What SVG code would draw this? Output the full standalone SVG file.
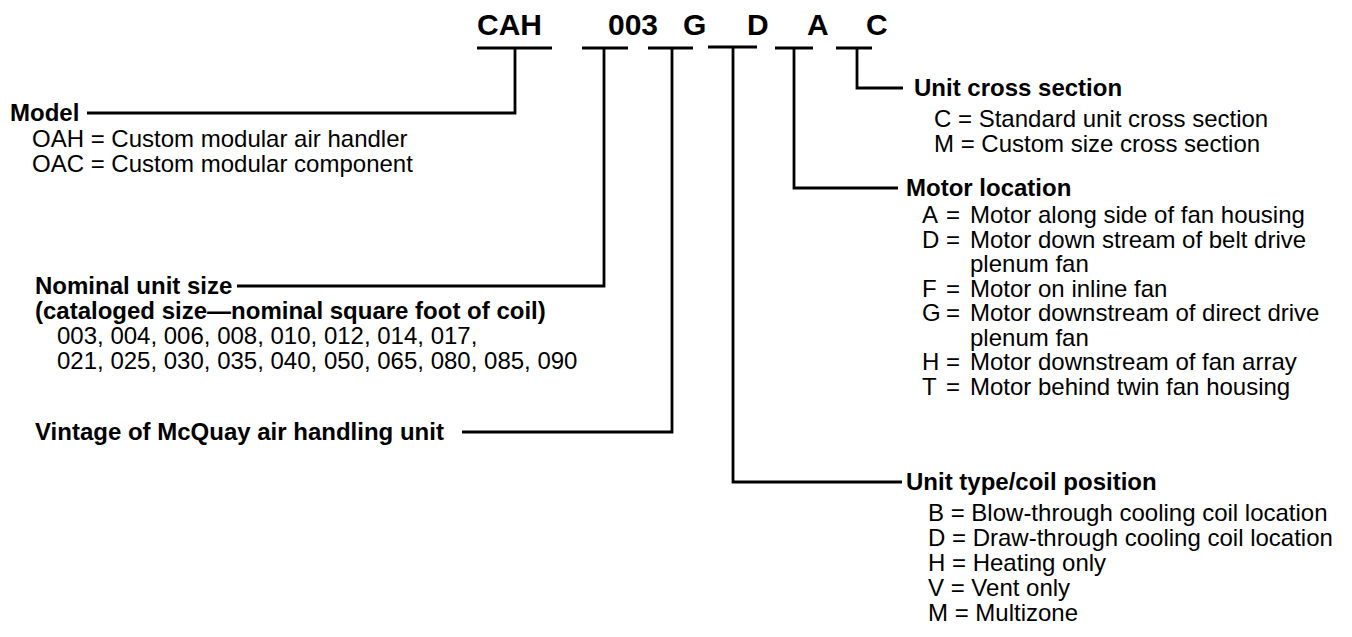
<svg xmlns="http://www.w3.org/2000/svg" width="1352" height="637" viewBox="0 0 1352 637">
<style>
.t{font-family:"Liberation Sans",Arial,sans-serif;font-size:24px;fill:#000}
.b{font-weight:bold}
.code{font-family:"Liberation Sans",Arial,sans-serif;font-size:30px;font-weight:bold;fill:#000}
.ln{fill:none;stroke:#000;stroke-width:2.8;stroke-linecap:butt;stroke-linejoin:miter}
</style>
<rect width="1352" height="637" fill="#fff"/>
<g id="code">
<text class="code" x="477" y="35">CAH</text>
<text class="code" x="608" y="35">003</text>
<text class="code" x="683" y="35">G</text>
<text class="code" x="747" y="35">D</text>
<text class="code" x="807" y="35">A</text>
<text class="code" x="866" y="35">C</text>
</g>
<g id="connectors">
<path class="ln" d="M477 48H552M515 48V113H87"/>
<path class="ln" d="M582 48H628M604 48V286H237"/>
<path class="ln" d="M648 48H693M672 48V432H462"/>
<path class="ln" d="M708 47H757M733 47V482H902"/>
<path class="ln" d="M775 48H813M794 48V188H898"/>
<path class="ln" d="M836 48H872M857 48V88H903"/>
</g>
<g id="model">
<text class="t b" x="10" y="121">Model</text>
<text class="t" x="32" y="147">OAH = Custom modular air handler</text>
<text class="t" x="32" y="172">OAC = Custom modular component</text>
</g>
<g id="nominal-size">
<text class="t b" x="35" y="294">Nominal unit size</text>
<text class="t b" x="35" y="319">(cataloged size—nominal square foot of coil)</text>
<text class="t" x="57" y="344">003, 004, 006, 008, 010, 012, 014, 017,</text>
<text class="t" x="57" y="369">021, 025, 030, 035, 040, 050, 065, 080, 085, 090</text>
</g>
<g id="vintage">
<text class="t b" x="35" y="440">Vintage of McQuay air handling unit</text>
</g>
<g id="cross-section">
<text class="t b" x="914" y="96">Unit cross section</text>
<text class="t" x="934" y="127">C = Standard unit cross section</text>
<text class="t" x="934" y="152">M = Custom size cross section</text>
</g>
<g id="motor-location">
<text class="t b" x="906" y="196">Motor location</text>
<text class="t" x="922" y="223">A</text><text class="t" x="946" y="223">=</text><text class="t" x="970" y="223">Motor along side of fan housing</text>
<text class="t" x="922" y="247.5">D</text><text class="t" x="946" y="247.5">=</text><text class="t" x="970" y="247.5">Motor down stream of belt drive</text>
<text class="t" x="970" y="272">plenum fan</text>
<text class="t" x="922" y="296.5">F</text><text class="t" x="946" y="296.5">=</text><text class="t" x="970" y="296.5">Motor on inline fan</text>
<text class="t" x="922" y="321">G</text><text class="t" x="946" y="321">=</text><text class="t" x="970" y="321">Motor downstream of direct drive</text>
<text class="t" x="970" y="345.5">plenum fan</text>
<text class="t" x="922" y="370">H</text><text class="t" x="946" y="370">=</text><text class="t" x="970" y="370">Motor downstream of fan array</text>
<text class="t" x="922" y="394.5">T</text><text class="t" x="946" y="394.5">=</text><text class="t" x="970" y="394.5">Motor behind twin fan housing</text>
</g>
<g id="unit-type">
<text class="t b" x="906" y="490">Unit type/coil position</text>
<text class="t" x="928" y="521">B = Blow-through cooling coil location</text>
<text class="t" x="928" y="546">D = Draw-through cooling coil location</text>
<text class="t" x="928" y="571">H = Heating only</text>
<text class="t" x="928" y="596">V = Vent only</text>
<text class="t" x="928" y="621">M = Multizone</text>
</g>
</svg>
